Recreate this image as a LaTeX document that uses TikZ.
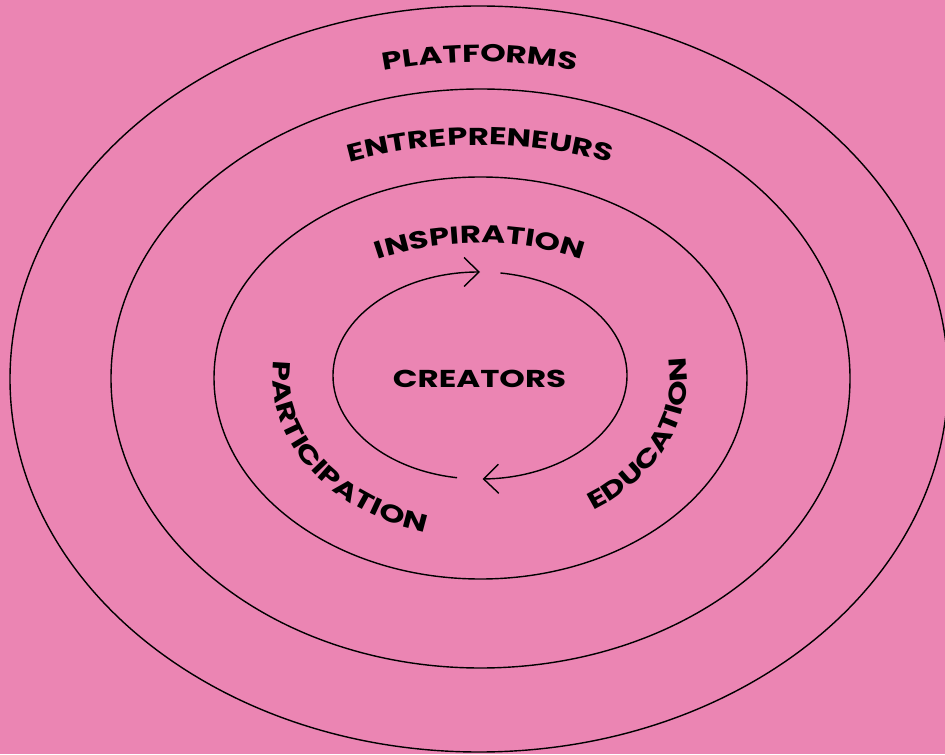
\documentclass[tikz,border=0pt]{standalone}
\usepackage{fontspec}
\newfontfamily\ringfont{Poppins}[FakeStretch=1.33]
\usetikzlibrary{arrows.meta,decorations.text}
\definecolor{ringpink}{RGB}{235,133,179}
\newcommand\labelfont{\ringfont\bfseries\fontsize{13.9pt}{14pt}\selectfont}

\begin{document}
\begin{tikzpicture}[x=0.02cm,y=0.02cm,
	ring/.style={line width=0.8pt,black},
	loopline/.style={line width=0.8pt,black,-{Straight Barb[length=3mm,width=5.8mm]}},
	ringtext/.style={decorate,decoration={text along path,text align=center,text={|\labelfont|#1}}}]
	  \useasboundingbox (0,0) rectangle (945,754);
	  \fill[ringpink] (0,0) rectangle (945,754);   % background

	  \coordinate (mid) at (480,376);
	  \draw[ring] (479,375) ellipse [x radius=469, y radius=373];   % platforms ring
	  \draw[ring] (480.5,375.5) ellipse [x radius=369.5, y radius=289.5];   % entrepreneurs ring
	  \draw[ring] (480.5,376) ellipse [x radius=266.5, y radius=201];   % creator ring

	  % the creator cycle
	  \coordinate (loop) at (480,378.5);
	  \draw[loopline] (loop) ++(261:147 and 103.5) arc[start angle=261, end angle=90, x radius=147, y radius=103.5];
	  \draw[loopline] (loop) ++(82:147 and 103.5) arc[start angle=82, end angle=-89, x radius=147, y radius=103.5];
	  \node (creators) at (479.5,375.5) {\labelfont CREATORS};

	  % curved labels
	  \path[ringtext=PLATFORMS] (mid) ++(130:405 and 316) arc[start angle=130, end angle=50, x radius=405, y radius=316];
	  \path[ringtext=ENTREPRENEURS] (mid) ++(140:345 and 233) arc[start angle=140, end angle=40, x radius=345, y radius=233];
	  \path[ringtext=INSPIRATION] (mid) ++(145:213 and 135) arc[start angle=145, end angle=35, x radius=213, y radius=135];
	  \path[ringtext=PARTICIPATION] (mid) ++(163:207 and 160) arc[start angle=163, end angle=263, x radius=207, y radius=160];
	  \path[ringtext=EDUCATION] (mid) ++(-73:207 and 158) arc[start angle=-73, end angle=27, x radius=207, y radius=158];
	\end{tikzpicture}
\end{document}
